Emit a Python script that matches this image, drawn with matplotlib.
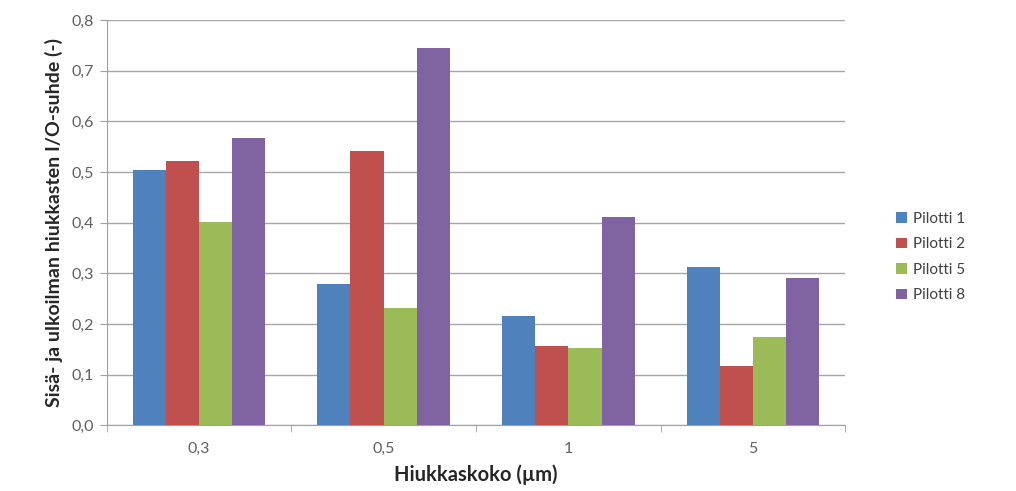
import numpy as np
import matplotlib.pyplot as plt
from matplotlib.ticker import FuncFormatter, FixedLocator

plt.rcParams['font.family'] = ['Lato', 'DejaVu Sans']

# Data
categories = ["0,3", "0,5", "1", "5"]
series_names = ["Pilotti 1", "Pilotti 2", "Pilotti 5", "Pilotti 8"]
pilotti_1 = [0.504, 0.279, 0.215, 0.312]
pilotti_2 = [0.522, 0.541, 0.156, 0.117]
pilotti_5 = [0.401, 0.231, 0.152, 0.174]
pilotti_8 = [0.567, 0.745, 0.411, 0.291]
colors = ["#4F81BD", "#C0504D", "#9BBB59", "#8064A2"]

fig = plt.figure(figsize=(10.16, 4.91), dpi=100)
ax = fig.add_axes([0.105, 0.134, 0.727, 0.825])

x = np.arange(len(categories))
width = 0.18
all_series = [pilotti_1, pilotti_2, pilotti_5, pilotti_8]
for i, (vals, name, c) in enumerate(zip(all_series, series_names, colors)):
    ax.bar(x + (i - 1.5) * width, vals, width, color=c, label=name, zorder=3)

ax.set_xlim(-0.5, len(categories) - 0.5)
ax.set_ylim(0, 0.8)
ax.set_yticks(np.arange(0, 0.81, 0.1))
ax.yaxis.set_major_formatter(FuncFormatter(lambda v, p: f"{v:.1f}".replace(".", ",")))
ax.set_xticks(x)
ax.set_xticklabels(categories)
ax.xaxis.set_minor_locator(FixedLocator(np.arange(-0.5, len(categories), 1.0)))
ax.tick_params(axis='x', which='major', length=0, pad=12, labelsize=11.5, labelcolor="#606060")
ax.tick_params(axis='x', which='minor', length=5, color="#A0A0A0")
ax.tick_params(axis='y', length=5, color="#A0A0A0", labelsize=11.5, labelcolor="#606060", pad=4)

ax.grid(axis='y', color="#A6A6A6", linewidth=1, zorder=0)
for s in ["top", "right"]:
    ax.spines[s].set_visible(False)
for s in ["left", "bottom"]:
    ax.spines[s].set_color("#A0A0A0")

ax.set_xlabel("Hiukkaskoko (µm)", fontsize=14.5, fontweight='bold', color="#262626", labelpad=6)
ax.set_ylabel("Sisä- ja ulkoilman hiukkasten I/O-suhde (-)", fontsize=14, fontweight='bold',
              color="#262626", labelpad=6)

ax.legend(loc='center left', bbox_to_anchor=(1.05, 0.415), frameon=False, fontsize=11,
          handlelength=0.7, handleheight=0.7, handletextpad=0.4, labelspacing=0.75,
          labelcolor="#404040")

fig.savefig("out.png", dpi=100)
